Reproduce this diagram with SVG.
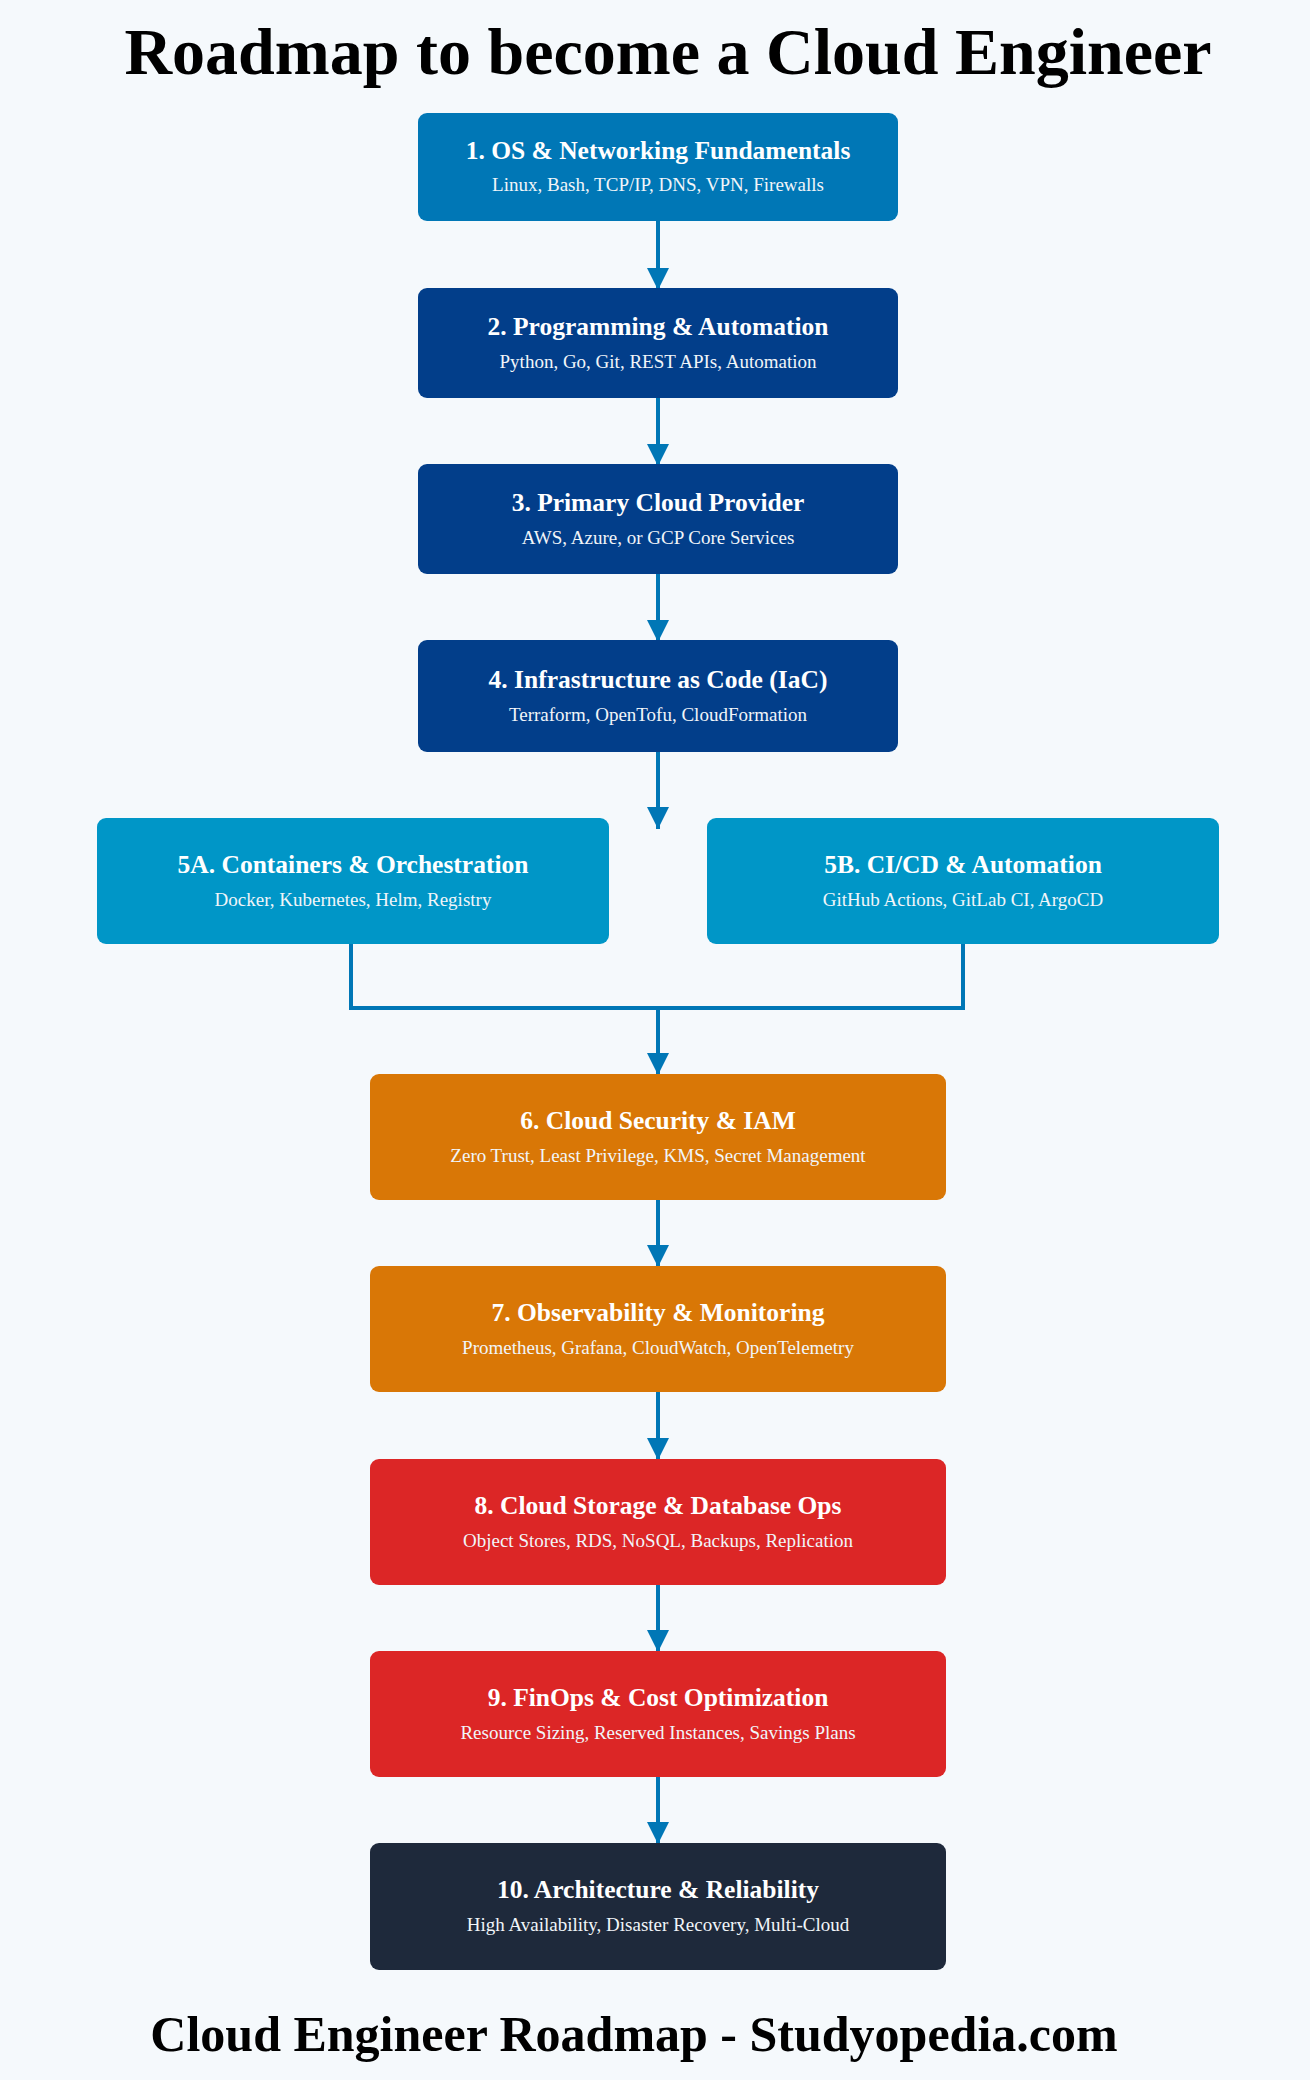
<svg xmlns="http://www.w3.org/2000/svg" width="1310" height="2080" viewBox="0 0 1310 2080">
<style>
.t{font-family:"Liberation Serif","Times New Roman",serif;font-weight:bold;font-size:25.5px;fill:#fff;text-anchor:middle}
.s{font-family:"Liberation Serif","Times New Roman",serif;font-size:19px;fill:#f1f5f9;text-anchor:middle}
.h{font-family:"Liberation Serif","DejaVu Serif",serif;font-weight:bold;fill:#000;text-anchor:middle}
.c{fill:none;stroke:#0077b6;stroke-width:4}
</style>
<defs>
<marker id="a" viewBox="0 0 10 10" refX="10" refY="5" markerWidth="5.5" markerHeight="5.5" orient="auto" markerUnits="strokeWidth"><path d="M0,0L10,5L0,10z" fill="#0077b6"/></marker>
</defs>
<rect width="1310" height="2080" fill="#f5f9fc"/>
<text class="h" x="668" y="74" font-size="66">Roadmap to become a Cloud Engineer</text>
<g id="connectors">
<path class="c" d="M658 221V290" marker-end="url(#a)"/>
<path class="c" d="M658 398V466" marker-end="url(#a)"/>
<path class="c" d="M658 574V642" marker-end="url(#a)"/>
<path class="c" d="M658 752V829" marker-end="url(#a)"/>
<path class="c" d="M351 944V1008H963V944"/>
<path class="c" d="M658 1008V1075" marker-end="url(#a)"/>
<path class="c" d="M658 1200V1267" marker-end="url(#a)"/>
<path class="c" d="M658 1392V1460" marker-end="url(#a)"/>
<path class="c" d="M658 1585V1652" marker-end="url(#a)"/>
<path class="c" d="M658 1777V1844" marker-end="url(#a)"/>
</g>
<g id="n1"><rect x="418" y="113" width="480" height="108" rx="9" fill="#0077b6"/><text class="t" x="658" y="159">1. OS &amp; Networking Fundamentals</text><text class="s" x="658" y="191">Linux, Bash, TCP/IP, DNS, VPN, Firewalls</text></g>
<g id="n2"><rect x="418" y="288" width="480" height="110" rx="9" fill="#023e8a"/><text class="t" x="658" y="335">2. Programming &amp; Automation</text><text class="s" x="658" y="368">Python, Go, Git, REST APIs, Automation</text></g>
<g id="n3"><rect x="418" y="464" width="480" height="110" rx="9" fill="#023e8a"/><text class="t" x="658" y="511">3. Primary Cloud Provider</text><text class="s" x="658" y="544">AWS, Azure, or GCP Core Services</text></g>
<g id="n4"><rect x="418" y="640" width="480" height="112" rx="9" fill="#023e8a"/><text class="t" x="658" y="688">4. Infrastructure as Code (IaC)</text><text class="s" x="658" y="721">Terraform, OpenTofu, CloudFormation</text></g>
<g id="n5a"><rect x="97" y="818" width="512" height="126" rx="9" fill="#0096c7"/><text class="t" x="353" y="873">5A. Containers &amp; Orchestration</text><text class="s" x="353" y="906">Docker, Kubernetes, Helm, Registry</text></g>
<g id="n5b"><rect x="707" y="818" width="512" height="126" rx="9" fill="#0096c7"/><text class="t" x="963" y="873">5B. CI/CD &amp; Automation</text><text class="s" x="963" y="906">GitHub Actions, GitLab CI, ArgoCD</text></g>
<g id="n6"><rect x="370" y="1074" width="576" height="126" rx="9" fill="#d97706"/><text class="t" x="658" y="1129">6. Cloud Security &amp; IAM</text><text class="s" x="658" y="1162">Zero Trust, Least Privilege, KMS, Secret Management</text></g>
<g id="n7"><rect x="370" y="1266" width="576" height="126" rx="9" fill="#d97706"/><text class="t" x="658" y="1321">7. Observability &amp; Monitoring</text><text class="s" x="658" y="1354">Prometheus, Grafana, CloudWatch, OpenTelemetry</text></g>
<g id="n8"><rect x="370" y="1459" width="576" height="126" rx="9" fill="#dc2626"/><text class="t" x="658" y="1514">8. Cloud Storage &amp; Database Ops</text><text class="s" x="658" y="1547">Object Stores, RDS, NoSQL, Backups, Replication</text></g>
<g id="n9"><rect x="370" y="1651" width="576" height="126" rx="9" fill="#dc2626"/><text class="t" x="658" y="1706">9. FinOps &amp; Cost Optimization</text><text class="s" x="658" y="1739">Resource Sizing, Reserved Instances, Savings Plans</text></g>
<g id="n10"><rect x="370" y="1843" width="576" height="127" rx="9" fill="#1e293b"/><text class="t" x="658" y="1898">10. Architecture &amp; Reliability</text><text class="s" x="658" y="1931">High Availability, Disaster Recovery, Multi-Cloud</text></g>
<text class="h" x="634" y="2051" font-size="50">Cloud Engineer Roadmap - Studyopedia.com</text>
</svg>
